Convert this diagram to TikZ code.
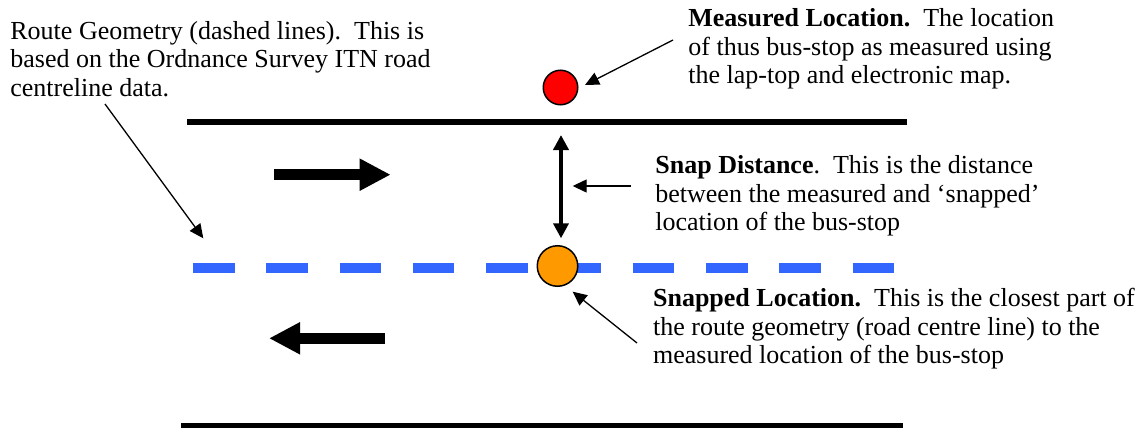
\documentclass[tikz,border=0pt]{standalone}
\usepackage{fontspec}
\setmainfont{Liberation Serif}
\usetikzlibrary{arrows.meta}
\definecolor{routeblue}{RGB}{51,102,255}
\definecolor{snaporange}{RGB}{255,153,0}
\definecolor{measred}{RGB}{255,0,0}
\begin{document}
\begin{tikzpicture}[x=0.5pt,y=-0.5pt,
  % labels are placed by the baseline of their last line
  note/.style={inner sep=0pt, anchor=base west, align=left,
    font=\fontsize{13pt}{14.25pt}\selectfont\frenchspacing},
  road/.style={line width=2.65pt},
  route/.style={routeblue, line width=5pt, dash pattern=on 20.75pt off 15.9pt},
  pointer/.style={line width=0.65pt, -{Triangle[length=7pt,width=6.5pt]}},
  gap/.style={line width=2.2pt,
    {Triangle[length=7.5pt,width=7.5pt]}-{Triangle[length=7.5pt,width=7.5pt]}},
  flow/.style={line width=5.3pt, -{Triangle[length=15.5pt,width=15pt]}},
  stop/.style={circle, draw=black, line width=0.75pt, inner sep=0pt}
]
\useasboundingbox (0,0) rectangle (1142,428);

% road edges
\coordinate (topL) at (187,122);
\coordinate (topR) at (907,122);
\coordinate (botL) at (181,425.5);
\coordinate (botR) at (903,425.5);
\draw[road] (topL) -- (topR);
\draw[road] (botL) -- (botR);

% route geometry (road centre line)
\coordinate (routeL) at (193,267.5);
\coordinate (routeR) at (894,267.5);
\draw[route] (routeL) -- (routeR);

% bus-stop positions
\node[stop, fill=measred, minimum size=17.25pt] (measured) at (560.5,87.5) {};
\node[stop, fill=snaporange, minimum size=20.25pt] (snapped) at (557.5,266) {};

% traffic direction
\coordinate (eastA) at (274,174.7);
\coordinate (eastB) at (390.7,174.7);
\coordinate (westA) at (385.3,338.3);
\coordinate (westB) at (269,338.3);
\draw[flow] (eastA) -- (eastB);
\draw[flow] (westA) -- (westB);

% snap distance
\coordinate (gapT) at (561,135);
\coordinate (gapB) at (561,238.3);
\draw[gap] (gapT) -- (gapB);

% labels
\node[note] (rgText) at (10,96.5) {Route Geometry (dashed lines).\ \ This is\\
  based on the Ordnance Survey ITN road\\ centreline data.};
\node[note] (mlText) at (688,83.5) {\textbf{Measured Location.}\ \ The location\\
  of thus bus-stop as measured using\\ the lap-top and electronic map.};
\node[note] (sdText) at (655,230.5) {\textbf{Snap Distance}.\ \ This is the distance\\
  between the measured and ‘snapped’\\ location of the bus-stop};
\node[note] (slText) at (652.7,363.5) {\textbf{Snapped Location.}\ \ This is the closest part of\\
  the route geometry (road centre line) to the\\ measured location of the bus-stop};

% pointers from labels
\coordinate (rgTail) at (105,104);
\coordinate (rgTip) at (203.3,238.3);
\coordinate (mlTail) at (673,40);
\coordinate (mlTip) at (585,85);
\coordinate (sdTail) at (631,186);
\coordinate (sdTip) at (572.7,186);
\coordinate (slTail) at (637,343);
\coordinate (slTip) at (572.7,291.7);
\draw[pointer] (rgTail) -- (rgTip);
\draw[pointer] (mlTail) -- (mlTip);
\draw[pointer] (sdTail) -- (sdTip);
\draw[pointer] (slTail) -- (slTip);
\end{tikzpicture}
\end{document}
